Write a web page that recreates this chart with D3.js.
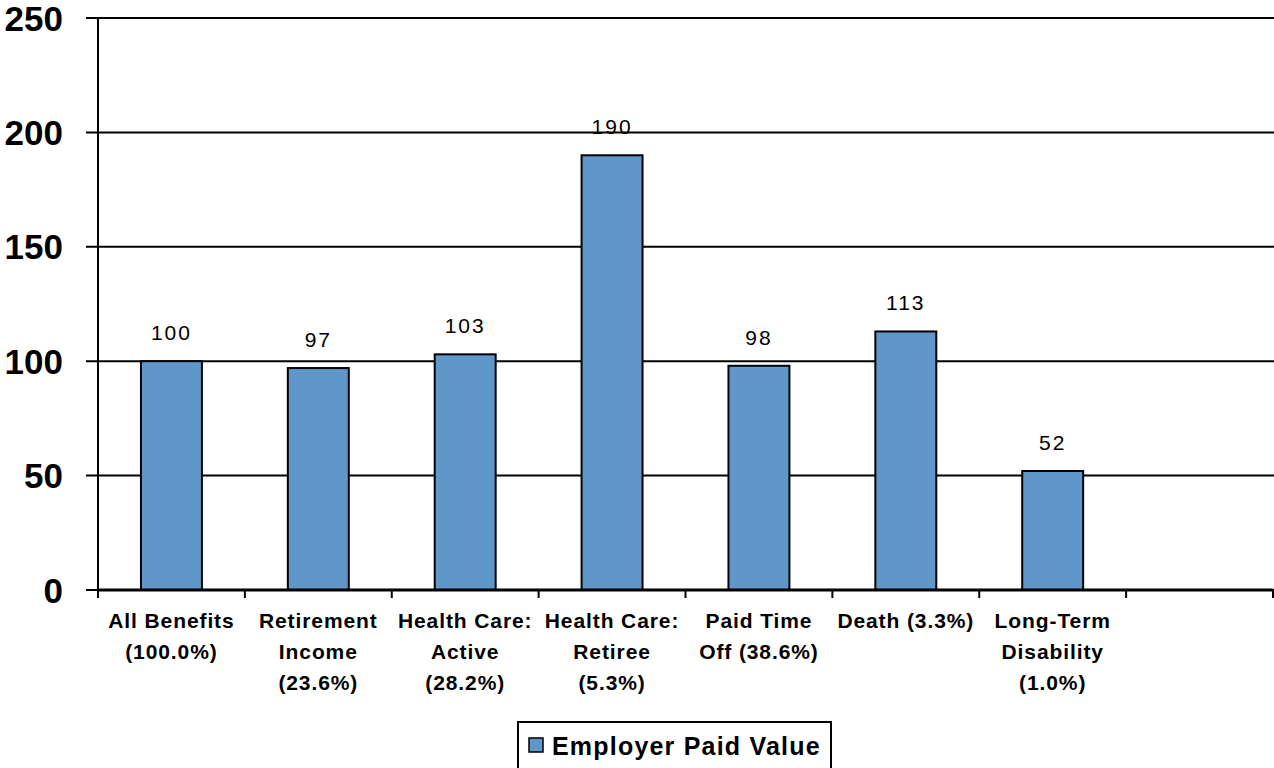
<!DOCTYPE html>
<html lang="en">
<head>
  <meta charset="UTF-8">
  <title>Employer Paid Value</title>
  <script src="https://cdn.jsdelivr.net/npm/d3@7"></script>
  <style>
    body { margin: 0; background: #fff; }
    svg { display: block; font-family: "Liberation Sans", Arial, sans-serif; }
  </style>
</head>
<body>
  <svg id="chart" width="1274" height="768"></svg>
  <script>
  // chart data
  var categories = [
    ["All Benefits", "(100.0%)"],
    ["Retirement", "Income", "(23.6%)"],
    ["Health Care:", "Active", "(28.2%)"],
    ["Health Care:", "Retiree", "(5.3%)"],
    ["Paid Time", "Off (38.6%)"],
    ["Death (3.3%)"],
    ["Long-Term", "Disability", "(1.0%)"]
  ];
  var values = [100, 97, 103, 190, 98, 113, 52];
  var yTicks = [0, 50, 100, 150, 200, 250];
  var seriesName = "Employer Paid Value";
  var slotCount = 8; // one empty slot at the right end

  var svg = d3.select("#chart");
  // plot box (note: "top" is reserved on window, so use other names)
  var plotLeft = 98, plotRight = 1273, plotTop = 18, plotBottom = 590;

  var slots = d3.range(slotCount);
  var x = d3.scaleBand()
    .domain(slots)
    .range([plotLeft, plotRight])
    .paddingInner(0.585)
    .paddingOuter(0.2925);

  var y = d3.scaleLinear().domain([0, 250]).range([plotBottom, plotTop]);

  // gridlines + y ticks
  svg.append("g")
    .selectAll("line")
    .data(yTicks)
    .enter()
    .append("line")
    .attr("x1", plotLeft - 12)
    .attr("x2", 1274)
    .attr("y1", d => y(d))
    .attr("y2", d => y(d))
    .attr("stroke", "#000")
    .attr("stroke-width", 2);

  svg.append("g")
    .selectAll("text")
    .data(yTicks)
    .enter()
    .append("text")
    .attr("x", 63)
    .attr("y", d => y(d))
    .attr("dy", "0.36em")
    .attr("text-anchor", "end")
    .attr("font-size", 35)
    .attr("font-weight", "bold")
    .text(d => d);

  // y axis line
  svg.append("line")
    .attr("x1", plotLeft).attr("x2", plotLeft)
    .attr("y1", plotTop).attr("y2", plotBottom)
    .attr("stroke", "#000")
    .attr("stroke-width", 2);

  // bars
  svg.append("g")
    .selectAll("rect")
    .data(values)
    .enter()
    .append("rect")
    .attr("x", (d, i) => x(i))
    .attr("y", d => y(d))
    .attr("width", x.bandwidth())
    .attr("height", d => y(0) - y(d))
    .attr("fill", "#6097CA")
    .attr("stroke", "#000")
    .attr("stroke-width", 2);

  // value labels
  svg.append("g")
    .selectAll("text")
    .data(values)
    .enter()
    .append("text")
    .attr("x", (d, i) => x(i) + x.bandwidth() / 2)
    .attr("y", d => y(d) - 21)
    .attr("text-anchor", "middle")
    .attr("font-size", 21)
    .attr("letter-spacing", 2)
    .text(d => d);

  // x axis line and ticks
  svg.append("line")
    .attr("x1", plotLeft).attr("x2", plotRight)
    .attr("y1", plotBottom).attr("y2", plotBottom)
    .attr("stroke", "#000")
    .attr("stroke-width", 3);

  var step = x.step();
  svg.append("g")
    .selectAll("line")
    .data(d3.range(slotCount + 1))
    .enter()
    .append("line")
    .attr("x1", i => plotLeft + i * step)
    .attr("x2", i => plotLeft + i * step)
    .attr("y1", plotBottom)
    .attr("y2", plotBottom + 8)
    .attr("stroke", "#000")
    .attr("stroke-width", 2);

  // category labels
  var catLabels = svg.append("g")
    .selectAll("text")
    .data(categories)
    .enter()
    .append("text")
    .attr("text-anchor", "middle")
    .attr("font-size", 21)
    .attr("letter-spacing", 0.9)
    .attr("font-weight", "bold");

  catLabels.selectAll("tspan")
    .data((d, i) => d.map(line => ({ line: line, i: i })))
    .enter()
    .append("tspan")
    .attr("x", d => x(d.i) + x.bandwidth() / 2)
    .attr("y", (d, j) => 628 + j * 31)
    .text(d => d.line);

  // legend
  var legend = svg.append("g");
  legend.append("rect")
    .attr("x", 518).attr("y", 722)
    .attr("width", 313).attr("height", 60)
    .attr("fill", "#fff")
    .attr("stroke", "#000")
    .attr("stroke-width", 2);
  legend.append("rect")
    .attr("x", 529).attr("y", 738)
    .attr("width", 14).attr("height", 14)
    .attr("fill", "#6097CA")
    .attr("stroke", "#000")
    .attr("stroke-width", 1.5);
  legend.append("text")
    .attr("x", 552).attr("y", 755)
    .attr("font-size", 25)
    .attr("letter-spacing", 1.2)
    .attr("font-weight", "bold")
    .text(seriesName);
  </script>
</body>
</html>
